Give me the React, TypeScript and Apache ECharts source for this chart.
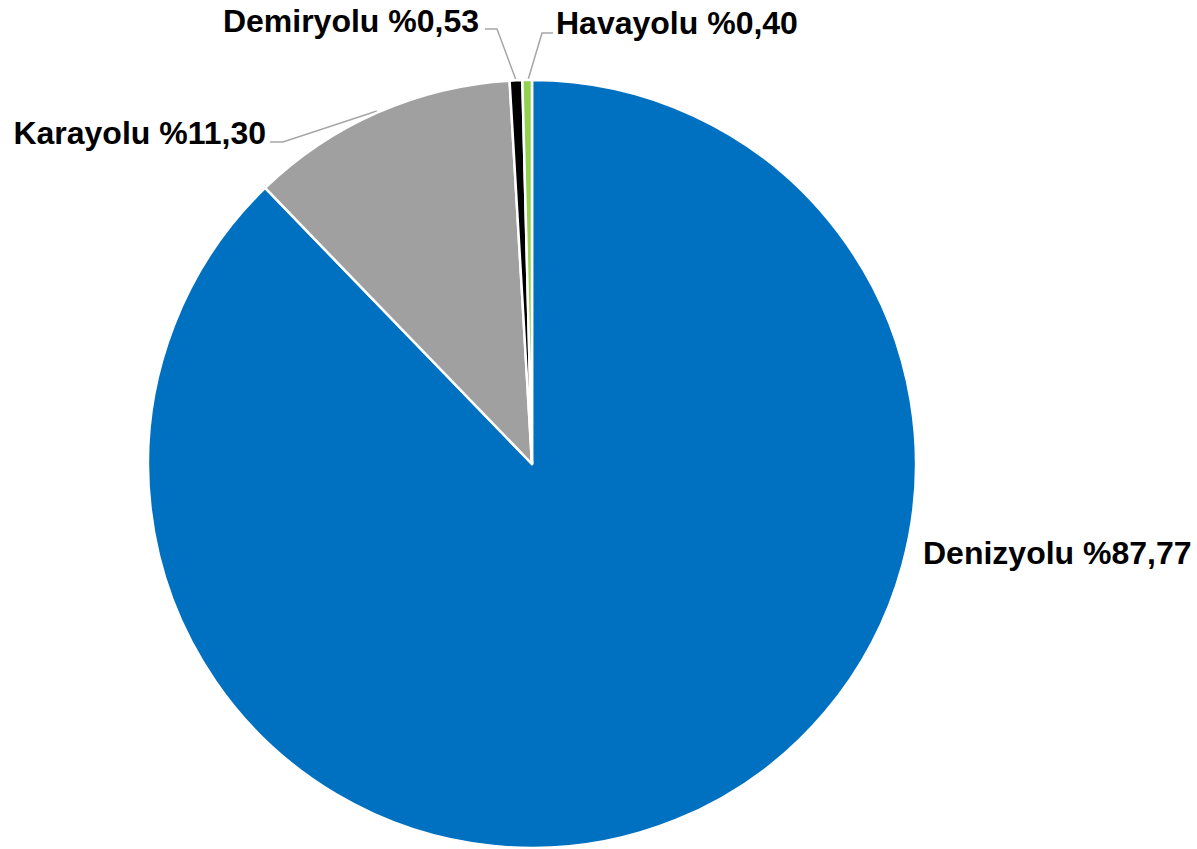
import React, { useEffect, useRef } from "react";
import * as echarts from "echarts";

const categories = ["Denizyolu", "Karayolu", "Demiryolu", "Havayolu"];
const shares = [87.77, 11.3, 0.53, 0.4];
const colors = ["#0070C0", "#A0A0A0", "#000000", "#92D050"];

// label placement (layout only)
const labelPos: { x: number; y: number; align: string; line: number[][] | null }[] = [
  { x: 923, y: 553, align: "left", line: null },
  { x: 266, y: 133, align: "right", line: [[377, 111], [283, 142], [270, 142]] },
  { x: 479, y: 21, align: "right", line: [[516, 80], [497, 29], [485, 29]] },
  { x: 556, y: 23, align: "left", line: [[528, 80], [542, 33], [553, 33]] },
];

export default function App() {
  const ref = useRef<HTMLDivElement>(null);
  useEffect(() => {
    document.body.style.margin = "0";
    const chart = echarts.init(ref.current!, null, { renderer: "svg" });
    chart.setOption({
      animation: false,
      backgroundColor: "#ffffff",
      series: [
        {
          type: "pie",
          center: [532, 464],
          radius: 384,
          startAngle: 90,
          clockwise: true,
          itemStyle: { borderColor: "#ffffff", borderWidth: 2.5 },
          label: {
            show: true,
            position: "outside",
            fontFamily: "Liberation Sans, Arial, sans-serif",
            fontWeight: "bold",
            fontSize: 32,
            color: "#000000",
            formatter: (p: any) => `${p.name} %${p.value.toFixed(2).replace(".", ",")}`,
          },
          labelLine: {
            show: true,
            lineStyle: { color: "#A6A6A6", width: 1.5 },
          },
          labelLayout: (p: any) => {
            const L = labelPos[p.dataIndex];
            const out: any = { x: L.x, y: L.y, align: L.align, verticalAlign: "middle" };
            if (L.line) out.labelLinePoints = L.line;
            return out;
          },
          data: categories.map((name, i) => ({
            name,
            value: shares[i],
            itemStyle: { color: colors[i] },
            labelLine: { show: labelPos[i].line !== null },
          })),
        },
      ],
    });
    return () => chart.dispose();
  }, []);
  return <div ref={ref} style={{ position: "absolute", left: 0, top: 0, width: 1197, height: 849 }} />;
}
